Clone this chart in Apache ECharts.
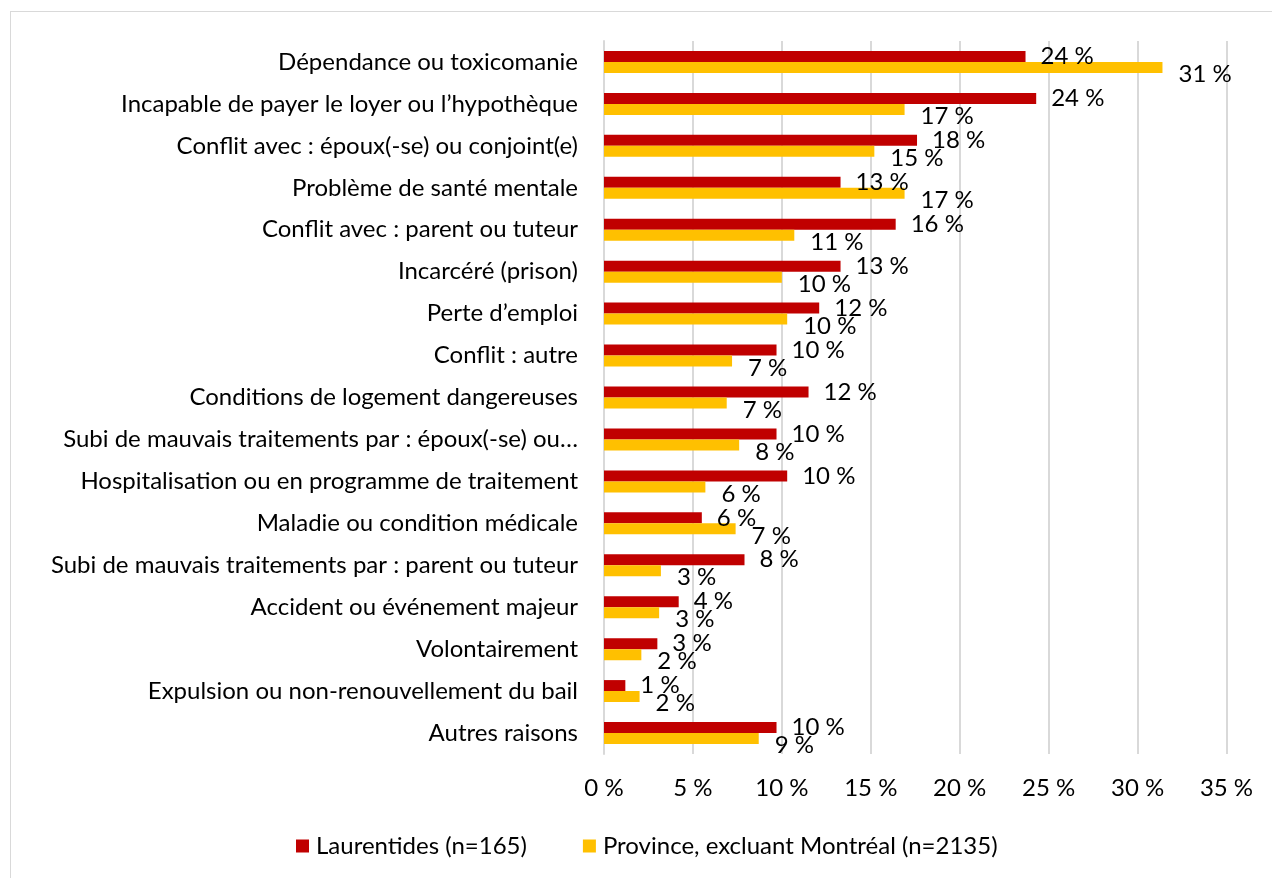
<!DOCTYPE html>
<html>
<head>
<meta charset="utf-8">
<script src="https://cdn.jsdelivr.net/npm/echarts@6/dist/echarts.min.js"></script>
<style>
  html, body { margin: 0; padding: 0; background: #fff; }
  #frame { position: absolute; left: 10px; top: 11px; width: 1300px; height: 900px; border: 1px solid #d9d9d9; box-sizing: border-box; }
  #chart { position: absolute; left: 0; top: 0; width: 1272px; height: 878px; }
</style>
</head>
<body>
<div id="frame"></div>
<div id="chart"></div>
<script>
// Raisons de la perte du logement (% des répondants)
const categories = [
  "Dépendance ou toxicomanie",
  "Incapable de payer le loyer ou l’hypothèque",
  "Conflit avec : époux(-se) ou conjoint(e)",
  "Problème de santé mentale",
  "Conflit avec : parent ou tuteur",
  "Incarcéré (prison)",
  "Perte d’emploi",
  "Conflit : autre",
  "Conditions de logement dangereuses",
  "Subi de mauvais traitements par : époux(-se) ou…",
  "Hospitalisation ou en programme de traitement",
  "Maladie ou condition médicale",
  "Subi de mauvais traitements par : parent ou tuteur",
  "Accident ou événement majeur",
  "Volontairement",
  "Expulsion ou non-renouvellement du bail",
  "Autres raisons"
];

const laurentides = [23.7, 24.3, 17.6, 13.3, 16.4, 13.3, 12.1, 9.7, 11.5, 9.7, 10.3, 5.5, 7.9, 4.2, 3.0, 1.2, 9.7];
const province    = [31.4, 16.9, 15.2, 16.9, 10.7, 10.0, 10.3, 7.2, 6.9, 7.6, 5.7, 7.4, 3.2, 3.1, 2.1, 2.0, 8.7];

const seriesNames = ["Laurentides (n=165)", "Province, excluant Montréal (n=2135)"];
const xTicks = [0, 5, 10, 15, 20, 25, 30, 35];

const FONT = "Lato";
const FS = 24;
const pct = v => Math.round(v) + " %";

const chart = echarts.init(document.getElementById("chart"), null, { renderer: "canvas" });
chart.setOption({
  backgroundColor: "transparent",
  animation: false,
  textStyle: { fontFamily: FONT, color: "#000" },
  grid: { left: 604, right: 45.5, top: 41, bottom: 124, containLabel: false },
  legend: {
    data: seriesNames,
    left: 291,
    top: 829,
    itemWidth: 13,
    itemHeight: 13,
    itemGap: 56,
    icon: "rect",
    textStyle: { fontFamily: FONT, fontSize: FS, color: "#000", padding: [0, 0, 0, 2] }
  },
  xAxis: {
    type: "value",
    min: xTicks[0],
    max: xTicks[xTicks.length - 1],
    interval: 5,
    axisLine: { show: false },
    axisTick: { show: false },
    splitLine: { show: true, lineStyle: { color: "#d9d9d9", width: 2 } },
    axisLabel: { fontFamily: FONT, fontSize: FS, color: "#000", margin: 22, formatter: v => v + " %" }
  },
  yAxis: {
    type: "category",
    data: categories,
    inverse: true,
    axisLine: { show: true, lineStyle: { color: "#d9d9d9", width: 2 } },
    axisTick: { show: false },
    axisLabel: { fontFamily: FONT, fontSize: FS, color: "#000", margin: 26 }
  },
  series: [
    {
      name: seriesNames[0],
      type: "bar",
      data: laurentides,
      barWidth: 11,
      barGap: "0%",
      itemStyle: { color: "#C00000" },
      label: {
        show: true, position: "right", distance: 15,
        fontFamily: FONT, fontSize: FS, color: "#000",
        formatter: p => pct(p.value)
      }
    },
    {
      name: seriesNames[1],
      type: "bar",
      data: province,
      barWidth: 11,
      barGap: "0%",
      itemStyle: { color: "#FFC000" },
      label: {
        show: true, position: "right", distance: 16, offset: [0, 7],
        fontFamily: FONT, fontSize: FS, color: "#000",
        formatter: p => pct(p.value)
      }
    }
  ]
});
</script>
</body>
</html>
